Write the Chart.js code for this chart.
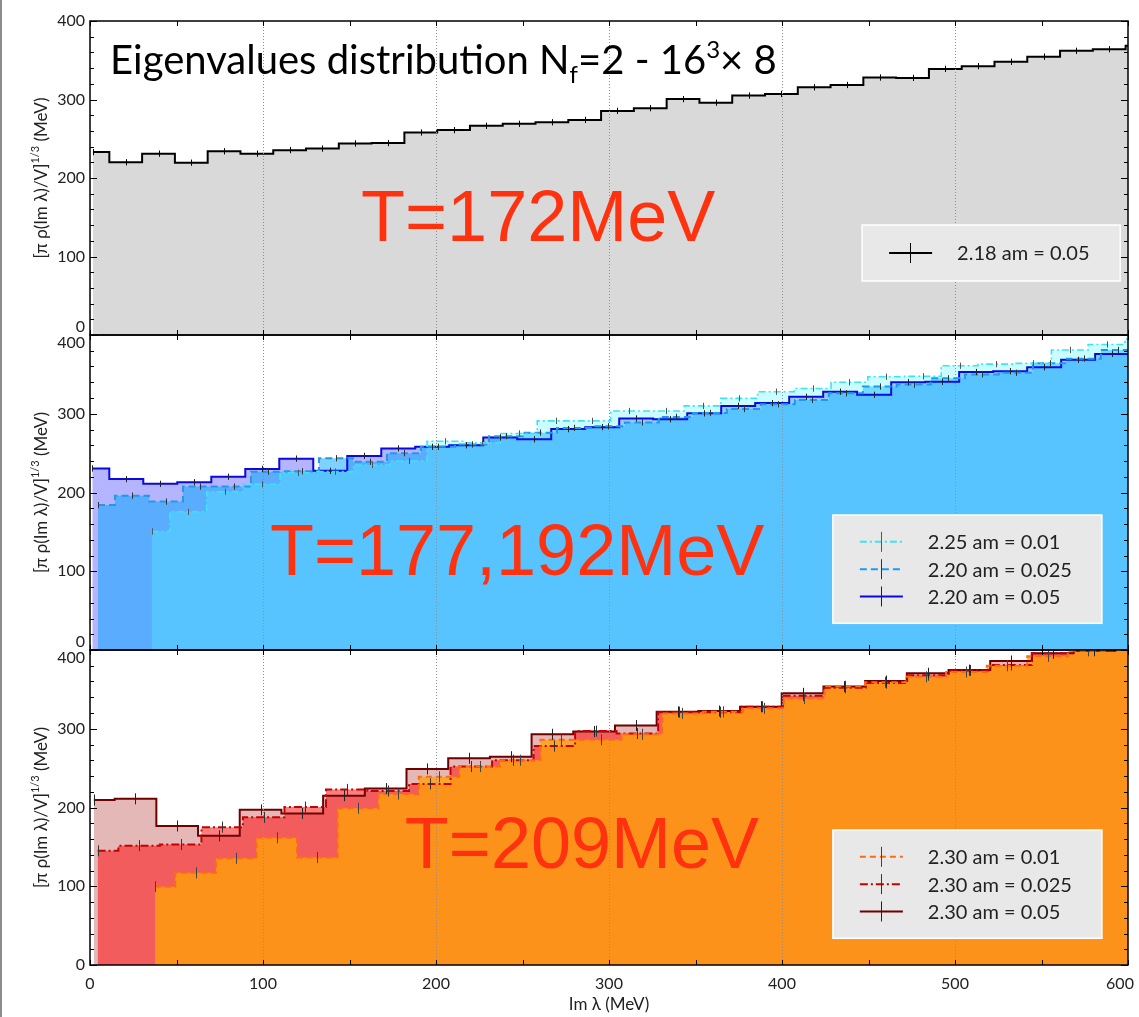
<!DOCTYPE html>
<html lang="en">
<head>
  <meta charset="UTF-8">
  <title>Eigenvalues distribution Nf=2 - 16^3 x 8</title>
  <script src="https://cdn.jsdelivr.net/npm/chart.js"></script>
  <style>
    body { margin: 0; background: #fff; font-family: 'Lato', sans-serif; }
    #wrap { position: relative; width: 1139px; height: 1017px; overflow: hidden; background: #fff; }
    #wrap canvas { position: absolute; left: 0; }
    #edge { position: absolute; left: 0; top: 0; width: 2px; height: 1017px; background: #8c8c8c; }
  </style>
</head>
<body>
<div id="wrap">
  <canvas id="p1" width="1139" height="345" style="top:0"></canvas>
  <canvas id="p2" width="1139" height="335" style="top:325px"></canvas>
  <canvas id="p3" width="1139" height="377" style="top:640px"></canvas>
  <div id="edge"></div>
</div>
<script>
const xTicks = [0, 100, 200, 300, 400, 500, 600];
const yTicks = [0, 100, 200, 300, 400];

// [pi rho(Im lambda)/V]^(1/3) in MeV, one value per bin.
// bins: [centre of first bin, bin width] in MeV
const b218m050 = [233, 220, 231, 219.5, 234, 231, 235.5, 237.5, 244, 244.5, 258, 261, 266.5, 269, 271, 274,
  285.5, 289, 300.5, 296, 305, 307, 315.5, 318.5, 328, 327.5, 339, 342.5, 348, 354.5, 362, 364, 368.5];
const b218m050Bins = [1.7, 18.95];

const b225m010 = [150.5, 175.5, 201, 210.5, 225, 226.5, 235, 240, 265, 263, 275, 291, 291, 303.5, 303.5, 310,
  319.5, 328, 332, 340, 347, 347.5, 361, 363, 364, 381, 388, 395];
const b225m010Bins = [35.6, 21.23];

const b220m025 = [184, 196, 188.5, 207.5, 207.5, 226.5, 227, 243.5, 239, 250, 258, 261, 271.5, 276, 282, 284,
  289, 296, 301, 306, 312, 317.5, 326, 334.5, 337, 345, 350, 352, 364, 370, 381, 390];
const b220m025Bins = [4.6, 19.65];

const b220m050 = [230.5, 217, 211, 213, 220, 230, 243, 227.5, 246.5, 256, 258, 260, 270, 267.5, 280.5, 283,
  294, 293, 300.5, 310, 313.5, 321.5, 328, 324, 340, 340.5, 353, 354, 359, 368.5, 376, 384];
const b220m050Bins = [1.33, 19.65];

const b230m010 = [99.5, 117, 135.5, 161.5, 136.5, 199, 217, 239, 252, 260, 286, 286, 293, 319.5, 321.5, 326,
  338.5, 354, 359, 366, 372, 380, 392, 399, 404];
const b230m010Bins = [37.6, 23.45];

const b230m025 = [145, 151.5, 153, 175, 187.5, 200.5, 223, 221, 230, 252, 260, 278, 297, 294, 321, 321,
  328, 342, 352, 358, 368, 374, 381, 396, 400, 403];
const b230m025Bins = [4.4, 24.0];

const b230m050 = [209.5, 211, 176.5, 164, 197, 192.5, 215, 224, 249, 262.5, 264.5, 293, 296.5, 304, 321.5, 322.5,
  328, 345, 353.5, 360.5, 370.5, 374.5, 386, 396, 399, 402];
const b230m050Bins = [2.2, 24.1];

const FONT = 'Lato, "Noto Sans", sans-serif';

const panels = {
  p1: {
    pad: [21, 10], xHeight: 0, showX: false, zeroUp: true, topDown: false, title: true,
    note: 'T=172MeV', noteAt: [156.7, 119.7], box: [446.3, 140.1, 595.5, 68.8],
    series: [
      { label: '2.18 am = 0.05', values: b218m050, bins: b218m050Bins, color: '#000000', lw: 2, dash: [],
        fill: 'rgba(0,0,0,0.15)', err: 4, errColor: '#000' }
    ]
  },
  p2: {
    pad: [10, 10], xHeight: 0, showX: false, zeroUp: true, topDown: true,
    note: 'T=177,192MeV', noteAt: [104, 95], box: [429.4, 171.4, 584.9, 33.9],
    series: [
      { label: '2.25 am = 0.01', values: b225m010, bins: b225m010Bins, color: '#3de3f2', lw: 1.6, dash: [7, 3, 2, 3],
        fill: 'rgba(80,249,255,0.3)', err: 4, errColor: '#555' },
      { label: '2.20 am = 0.025', values: b220m025, bins: b220m025Bins, color: '#1e9be8', lw: 2, dash: [7, 4],
        fill: 'rgba(0,164,255,0.5)', err: 4, errColor: '#333' },
      { label: '2.20 am = 0.05', values: b220m050, bins: b220m050Bins, color: '#0a0ae0', lw: 2, dash: [],
        fill: 'rgba(0,0,255,0.294)', err: 4, errColor: '#222' }
    ]
  },
  p3: {
    pad: [10, 0], xHeight: 52, showX: true, zeroUp: false, topDown: true,
    note: 'T=209MeV', noteAt: [182, 123], box: [429.4, 171.4, 584.9, 33.9],
    series: [
      { label: '2.30 am = 0.01', values: b230m010, bins: b230m010Bins, color: '#ff6a10', lw: 2, dash: [6, 4],
        fill: 'rgba(255,160,10,0.8)', err: 7, errColor: '#444' },
      { label: '2.30 am = 0.025', values: b230m025, bins: b230m025Bins, color: '#c80000', lw: 2, dash: [8, 3, 2, 3],
        fill: 'rgba(255,0,0,0.5)', err: 7, errColor: '#333' },
      { label: '2.30 am = 0.05', values: b230m050, bins: b230m050Bins, color: '#6e0000', lw: 2, dash: [],
        fill: 'rgba(160,0,0,0.28)', err: 7, errColor: '#222' }
    ]
  }
};

function drawPieces(ctx, pieces, x0, y0) {
  let xx = x0;
  pieces.forEach(([txt, size, dy]) => {
    ctx.font = size + 'px ' + FONT;
    ctx.fillText(txt, xx, y0 + dy);
    xx += ctx.measureText(txt).width;
  });
}

function piecesWidth(ctx, pieces) {
  let w = 0;
  pieces.forEach(([txt, size]) => { ctx.font = size + 'px ' + FONT; w += ctx.measureText(txt).width; });
  return w;
}

function makeDeco(p) {
  return {
    id: 'deco',
    afterDatasetsDraw(chart) {
      const { ctx, chartArea: a, scales: { x, y } } = chart;
      const line = (x1, y1, x2, y2) => { ctx.beginPath(); ctx.moveTo(x1, y1); ctx.lineTo(x2, y2); ctx.stroke(); };
      ctx.save();

      // dotted verticals
      ctx.strokeStyle = '#8f8f8f'; ctx.lineWidth = 1; ctx.setLineDash([1, 2]);
      xTicks.forEach(v => {
        if (v === xTicks[0] || v === xTicks[xTicks.length - 1]) return;
        const px = Math.round(x.getPixelForValue(v)) + 0.5;
        line(px, a.top, px, a.bottom);
      });
      ctx.setLineDash([]);

      // error bars
      chart.data.datasets.forEach((ds, i) => {
        const meta = chart.getDatasetMeta(i);
        ctx.strokeStyle = ds.errColor; ctx.lineWidth = 1;
        meta.data.forEach((pt, j) => {
          if (pt.x < a.left + 2 || pt.x > a.right - 2) return;
          const v = ds.data[j].y;
          const px = Math.round(pt.x) + 0.5;
          const y1 = Math.max(a.top, y.getPixelForValue(v + ds.err));
          line(px, y1, px, y.getPixelForValue(v - ds.err));
        });
      });

      // frame with inward ticks
      ctx.strokeStyle = '#000'; ctx.lineWidth = 1.5;
      ctx.strokeRect(a.left, a.top, a.right - a.left, a.bottom - a.top);
      ctx.lineWidth = 1;
      for (let v = 0; v <= 600; v += 50) {
        const px = Math.round(x.getPixelForValue(v)) + 0.5;
        line(px, a.top, px, a.top + 5);
        line(px, a.bottom, px, a.bottom - 5);
      }
      for (let v = 0; v <= 400; v += 20) {
        const py = Math.round(y.getPixelForValue(v)) + 0.5;
        const len = v % 100 === 0 ? 7 : 4;
        line(a.left, py, a.left + len, py);
        line(a.right, py, a.right - len, py);
      }

      // legend
      const L = x.getPixelForValue(p.box[0]), T = y.getPixelForValue(p.box[1]);
      const R = x.getPixelForValue(p.box[2]), B = y.getPixelForValue(p.box[3]);
      ctx.fillStyle = '#e8e8e8'; ctx.fillRect(L, T, R - L, B - T);
      ctx.strokeStyle = '#ffffff'; ctx.lineWidth = 1.5; ctx.strokeRect(L, T, R - L, B - T);
      const n = chart.data.datasets.length, gap = 27.3;
      let cy = (T + B) / 2 - (n - 1) * gap / 2;
      chart.data.datasets.forEach(ds => {
        ctx.strokeStyle = ds.borderColor; ctx.lineWidth = 2; ctx.setLineDash(ds.borderDash);
        line(L + 27, cy, L + 70, cy);
        ctx.setLineDash([]);
        ctx.strokeStyle = ds.errColor; ctx.lineWidth = 1;
        line(Math.round(L + 48) + 0.5, cy - 10, Math.round(L + 48) + 0.5, cy + 10);
        ctx.fillStyle = '#222'; ctx.font = '20px ' + FONT; ctx.textBaseline = 'middle'; ctx.textAlign = 'left';
        ctx.fillText(ds.label, L + 95, cy + 1);
        cy += gap;
      });

      // temperature label
      ctx.textBaseline = 'alphabetic';
      ctx.fillStyle = '#ff3210';
      ctx.font = '72px "Liberation Sans", Arial, sans-serif';
      ctx.fillText(p.note, x.getPixelForValue(p.noteAt[0]), y.getPixelForValue(p.noteAt[1]));

      // main title
      if (p.title) {
        ctx.fillStyle = '#000';
        drawPieces(ctx, [['Eigenvalues distribution N', 40, 0], ['f', 24, 9], ['=2 - 16', 40, 0], ['3', 24, -16], ['\u00d7 8', 40, 0]],
          x.getPixelForValue(11.6), y.getPixelForValue(332.5));
      }

      // y title
      const yt = [['[\u03c0 \u03c1(Im \u03bb)/V]', 17, 0], ['1/3', 11, -8], [' (MeV)', 17, 0]];
      const w = piecesWidth(ctx, yt);
      ctx.save();
      ctx.translate(47, (a.top + a.bottom) / 2);
      ctx.rotate(-Math.PI / 2);
      ctx.fillStyle = '#222';
      drawPieces(ctx, yt, -w / 2, 0);
      ctx.restore();

      ctx.restore();
    }
  };
}

// keep the plot frame exactly where the layout padding puts it
function pinAxis(s, size, vertical) {
  if (vertical) s.width = size; else s.height = size;
  s.paddingTop = 0; s.paddingBottom = 0; s.paddingLeft = 0; s.paddingRight = 0;
}

function buildPanel(id) {
  const p = panels[id];
  const datasets = p.series.map(s => ({
    label: s.label,
    data: s.values.map((v, i) => ({ x: s.bins[0] + i * s.bins[1], y: v })),
    stepped: 'middle',
    borderColor: s.color,
    borderWidth: s.lw,
    borderDash: s.dash,
    backgroundColor: s.fill,
    fill: 'origin',
    pointRadius: 0,
    err: s.err,
    errColor: s.errColor
  }));
  return new Chart(document.getElementById(id), {
    type: 'line',
    data: { datasets },
    options: {
      responsive: false,
      animation: false,
      devicePixelRatio: 1,
      layout: { autoPadding: false, padding: { top: p.pad[0], right: 11, bottom: p.pad[1], left: 0 } },
      plugins: {
        legend: { display: false },
        tooltip: { enabled: false },
        filler: { drawTime: 'beforeDatasetsDraw' }
      },
      scales: {
        x: {
          type: 'linear', min: xTicks[0], max: xTicks[xTicks.length - 1],
          grid: { display: false, drawTicks: false }, border: { display: false },
          ticks: {
            display: p.showX, stepSize: 100, padding: 9, color: '#222', maxRotation: 0,
            font: { family: FONT, size: 16 },
            callback: v => v === 600 ? '600\u2002\u2002' : String(v)
          },
          title: { display: p.showX, text: 'Im \u03bb (MeV)', color: '#222', font: { family: FONT, size: 17 }, padding: { top: 2, bottom: 2 } },
          afterFit: s => pinAxis(s, p.xHeight, false)
        },
        y: {
          min: yTicks[0], max: yTicks[yTicks.length - 1],
          grid: { display: false, drawTicks: false }, border: { display: false },
          ticks: {
            stepSize: 100, padding: 5, color: '#222',
            font: { family: FONT, size: 16, lineHeight: 1.0 },
            callback: v => {
              if (v === 0 && p.zeroUp) return ['0', ''];
              if (v === 400 && p.topDown) return ['', '400'];
              return String(v);
            }
          },
          afterFit: s => pinAxis(s, 90, true)
        }
      }
    },
    plugins: [makeDeco(p)]
  });
}

['p1', 'p2', 'p3'].forEach(buildPanel);
</script>
</body>
</html>
